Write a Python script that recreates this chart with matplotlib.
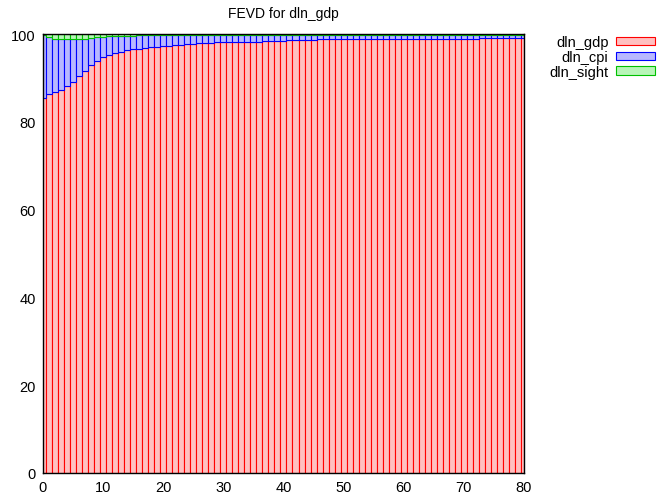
import numpy as np
import matplotlib
matplotlib.use("Agg")
import matplotlib.pyplot as plt

plt.rcParams["font.family"] = ["Liberation Sans", "DejaVu Sans"]

# horizons 0..80
periods = list(range(81))

# share of dln_gdp (%)
gdp = [85.4, 86.4, 86.7, 87.2, 88.1, 89.2, 90.5, 91.7, 93.0, 93.9,
       94.7, 95.3, 95.7, 96.0, 96.3, 96.5, 96.7, 96.9, 97.0, 97.1,
       97.3, 97.4, 97.5, 97.6, 97.7, 97.8, 97.9, 97.9, 98.0, 98.1,
       98.1, 98.1, 98.2, 98.2, 98.3, 98.3, 98.3, 98.4, 98.4, 98.5,
       98.5, 98.6, 98.6, 98.6, 98.7, 98.7, 98.8, 98.8, 98.8, 98.8,
       98.8, 98.8, 98.8, 98.8, 98.8, 98.8, 99.0, 99.0, 99.0, 99.0,
       99.0, 99.0, 99.0, 99.0, 99.0, 99.0, 99.0, 99.0, 99.0, 99.0,
       99.0, 99.0, 99.0, 99.2, 99.2, 99.2, 99.2, 99.2, 99.2, 99.2,
       99.2]

# share of dln_sight (%)
sight = [0.3, 0.6, 1.1, 1.2, 1.2, 1.1, 1.1, 1.0, 0.9, 0.7,
         0.6, 0.5, 0.5, 0.4, 0.4, 0.4, 0.3, 0.3, 0.3, 0.3,
         0.3, 0.3, 0.3, 0.3, 0.2, 0.2, 0.2, 0.2, 0.2, 0.2,
         0.2, 0.2, 0.2, 0.2, 0.2, 0.2, 0.2, 0.2, 0.2, 0.2,
         0.2, 0.2, 0.1, 0.1, 0.1, 0.1, 0.1, 0.1, 0.1, 0.1,
         0.1, 0.1, 0.1, 0.1, 0.1, 0.1, 0.1, 0.1, 0.1, 0.1,
         0.1, 0.1, 0.1, 0.1, 0.1, 0.1, 0.1, 0.1, 0.1, 0.1,
         0.1, 0.1, 0.1, 0.1, 0.1, 0.1, 0.1, 0.1, 0.1, 0.1,
         0.1]

gdp = np.array(gdp)
sight = np.array(sight)
cpi = 100 - gdp - sight

fig = plt.figure(figsize=(6.6, 5.02), dpi=100)
ax = fig.add_axes([0.065, 0.056, 0.729, 0.874])

lw = 0.8
ax.bar(periods, gdp, width=1, color="#ffc0c0", edgecolor="#ff0000", linewidth=lw, label="dln_gdp")
ax.bar(periods, cpi, width=1, bottom=gdp, color="#b8b8ff", edgecolor="#0000ff", linewidth=lw, label="dln_cpi")
ax.bar(periods, sight, width=1, bottom=gdp + cpi, color="#b8f5b8", edgecolor="#00c000", linewidth=lw, label="dln_sight")

ax.set_xlim(0, 80)
ax.set_ylim(0, 100)
ax.set_xticks(range(0, 81, 10))
ax.set_yticks(range(0, 101, 20))
ax.tick_params(labelsize=10.5, length=0, pad=5)
for s in ax.spines.values():
    s.set_linewidth(1)
ax.set_title("FEVD for dln_gdp", fontsize=10, pad=12)

fig.legend(loc="upper right", bbox_to_anchor=(1.008, 0.948), frameon=False,
           markerfirst=False, fontsize=10.5, handlelength=2.7, handleheight=0.5,
           labelspacing=0.05, handletextpad=0.5, borderpad=0.2)

fig.savefig("out.png", dpi=100)
